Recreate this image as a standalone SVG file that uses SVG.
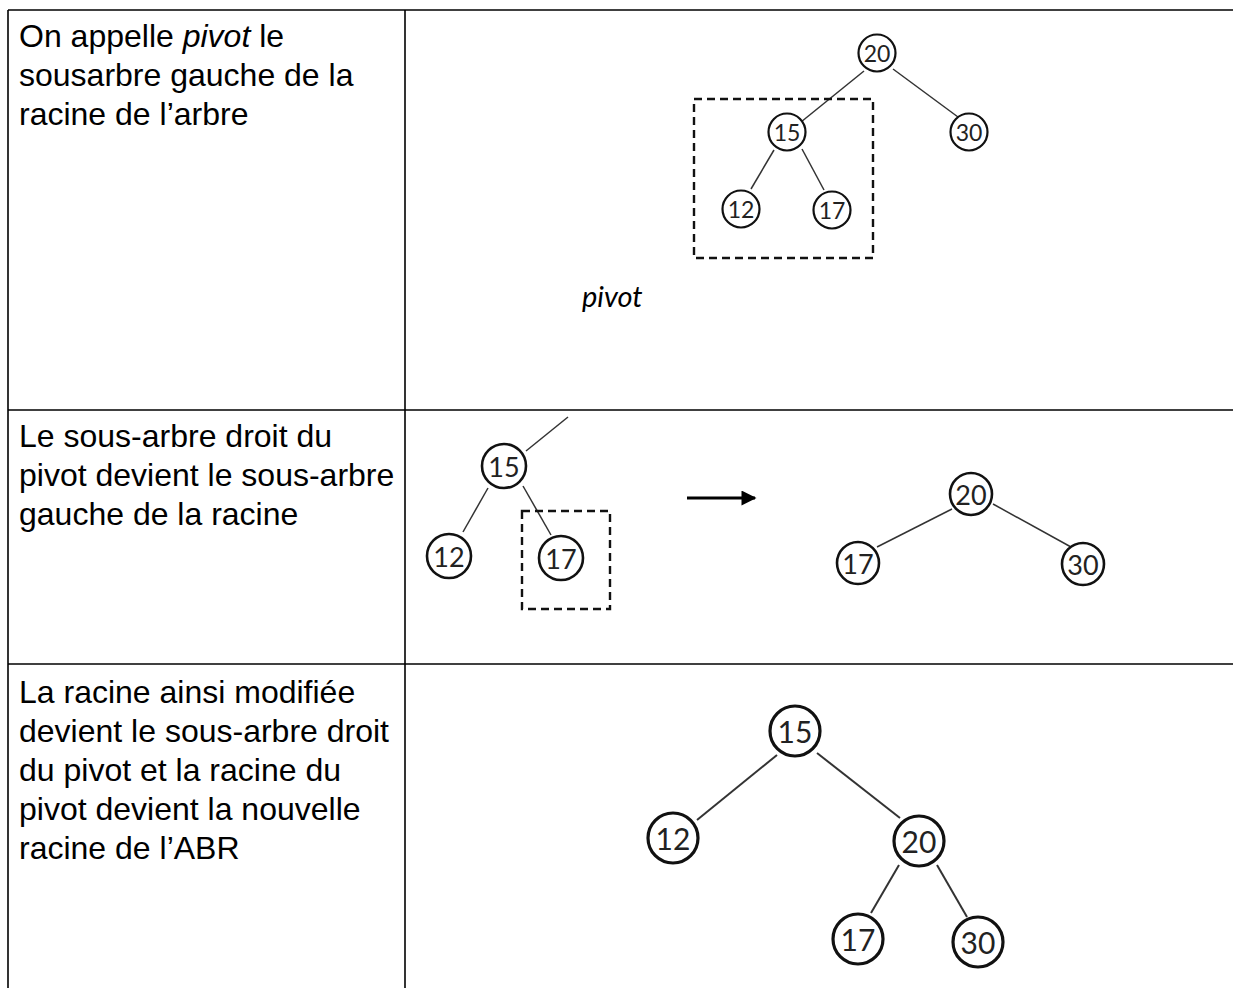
<svg xmlns="http://www.w3.org/2000/svg" width="1233" height="988" viewBox="0 0 1233 988">
  <defs>
    <style>
      .grid { stroke: #000; stroke-width: 1.6; fill: none; }
      .txt { font-family: "Liberation Sans", Arial, sans-serif; font-size: 32px; fill: #000; }
      .it { font-style: italic; }
      .lbl { font-family: Lato, "Open Sans", sans-serif; font-style: italic; font-size: 29px; fill: #000; }
      .node circle { fill: #fff; stroke: #111; }
      .node text { font-family: Lato, "Open Sans", sans-serif; fill: #222; text-anchor: middle; dominant-baseline: central; }
      .s circle { stroke-width: 2.2; }
      .s text { font-size: 23px; }
      .m circle { stroke-width: 2.6; }
      .m text { font-size: 27px; }
      .l circle { stroke-width: 3.2; }
      .l text { font-size: 30px; }
      .edge { stroke: #333; stroke-width: 1.5; fill: none; }
      .edge2 { stroke: #333; stroke-width: 2; fill: none; }
      .dash { stroke: #111; stroke-width: 2.4; stroke-dasharray: 8 5; fill: none; }
    </style>
    <marker id="head" viewBox="0 0 10 10" refX="9" refY="5" markerWidth="5.5" markerHeight="5" orient="auto" markerUnits="strokeWidth">
      <path d="M0,0 L10,5 L0,10 z" fill="#000"/>
    </marker>
  </defs>

  <!-- table grid -->
  <g id="table">
    <line class="grid" x1="8" y1="10" x2="1233" y2="10"/>
    <line class="grid" x1="8" y1="410" x2="1233" y2="410"/>
    <line class="grid" x1="8" y1="664" x2="1233" y2="664"/>
    <line class="grid" x1="8" y1="10" x2="8" y2="988"/>
    <line class="grid" x1="405" y1="10" x2="405" y2="988"/>
  </g>

  <!-- left column texts -->
  <g id="desc1">
    <text class="txt" x="19" y="47">On appelle <tspan class="it">pivot</tspan> le</text>
    <text class="txt" x="19" y="86">sousarbre gauche de la</text>
    <text class="txt" x="19" y="125">racine de l’arbre</text>
  </g>
  <g id="desc2">
    <text class="txt" x="19" y="447">Le sous-arbre droit du</text>
    <text class="txt" x="19" y="486">pivot devient le sous-arbre</text>
    <text class="txt" x="19" y="525">gauche de la racine</text>
  </g>
  <g id="desc3">
    <text class="txt" x="19" y="703">La racine ainsi modifiée</text>
    <text class="txt" x="19" y="742">devient le sous-arbre droit</text>
    <text class="txt" x="19" y="781">du pivot et la racine du</text>
    <text class="txt" x="19" y="820">pivot devient la nouvelle</text>
    <text class="txt" x="19" y="859">racine de l’ABR</text>
  </g>

  <!-- connectors -->
  <g id="connectors">
    <!-- tree 1 -->
    <line class="edge" x1="864" y1="71" x2="801" y2="122"/>
    <line class="edge" x1="893" y1="69" x2="958" y2="117"/>
    <line class="edge" x1="774" y1="150" x2="751" y2="189"/>
    <line class="edge" x1="802" y1="149" x2="824" y2="190"/>
    <!-- tree 2 left -->
    <line class="edge" x1="526" y1="451" x2="568" y2="417"/>
    <line class="edge" x1="488" y1="488" x2="463" y2="532"/>
    <line class="edge" x1="523" y1="486" x2="551" y2="535"/>
    <!-- tree 2 right -->
    <line class="edge" x1="952" y1="509" x2="877" y2="547"/>
    <line class="edge" x1="993" y1="504" x2="1071" y2="547"/>
    <!-- tree 3 -->
    <line class="edge2" x1="777" y1="755" x2="697" y2="820"/>
    <line class="edge2" x1="817" y1="753" x2="900" y2="818"/>
    <line class="edge2" x1="899" y1="865" x2="871" y2="913"/>
    <line class="edge2" x1="937" y1="865" x2="967" y2="917"/>
    <!-- transformation arrow -->
    <line x1="687" y1="498" x2="755" y2="498" stroke="#000" stroke-width="3" marker-end="url(#head)"/>
  </g>

  <!-- highlight frames -->
  <rect class="dash" x="694" y="99" width="179" height="159"/>
  <rect class="dash" x="522" y="511" width="88" height="98"/>
  <text class="lbl" x="582" y="307">pivot</text>

  <!-- tree 1 nodes -->
  <g id="t1n20" class="node s"><circle cx="877" cy="53" r="18.5"/><text x="877" y="53">20</text></g>
  <g id="t1n15" class="node s"><circle cx="787" cy="132" r="18.5"/><text x="787" y="132">15</text></g>
  <g id="t1n30" class="node s"><circle cx="969" cy="132" r="18.5"/><text x="969" y="132">30</text></g>
  <g id="t1n12" class="node s"><circle cx="741" cy="209" r="18.5"/><text x="741" y="209">12</text></g>
  <g id="t1n17" class="node s"><circle cx="832" cy="210" r="18.5"/><text x="832" y="210">17</text></g>

  <!-- tree 2 nodes -->
  <g id="t2n15" class="node m"><circle cx="504" cy="466" r="22"/><text x="504" y="466">15</text></g>
  <g id="t2n12" class="node m"><circle cx="449" cy="556" r="22"/><text x="449" y="556">12</text></g>
  <g id="t2n17" class="node m"><circle cx="561" cy="558" r="22"/><text x="561" y="558">17</text></g>
  <g id="t2n20" class="node m"><circle cx="971" cy="494" r="21"/><text x="971" y="494">20</text></g>
  <g id="t2r17" class="node m"><circle cx="858" cy="563" r="21"/><text x="858" y="563">17</text></g>
  <g id="t2n30" class="node m"><circle cx="1083" cy="564" r="21"/><text x="1083" y="564">30</text></g>

  <!-- tree 3 nodes -->
  <g id="t3n15" class="node l"><circle cx="795" cy="731" r="25"/><text x="795" y="731">15</text></g>
  <g id="t3n12" class="node l"><circle cx="673" cy="838" r="25"/><text x="673" y="838">12</text></g>
  <g id="t3n20" class="node l"><circle cx="919" cy="841" r="25"/><text x="919" y="841">20</text></g>
  <g id="t3n17" class="node l"><circle cx="858" cy="939" r="25"/><text x="858" y="939">17</text></g>
  <g id="t3n30" class="node l"><circle cx="978" cy="942" r="25"/><text x="978" y="942">30</text></g>
</svg>
